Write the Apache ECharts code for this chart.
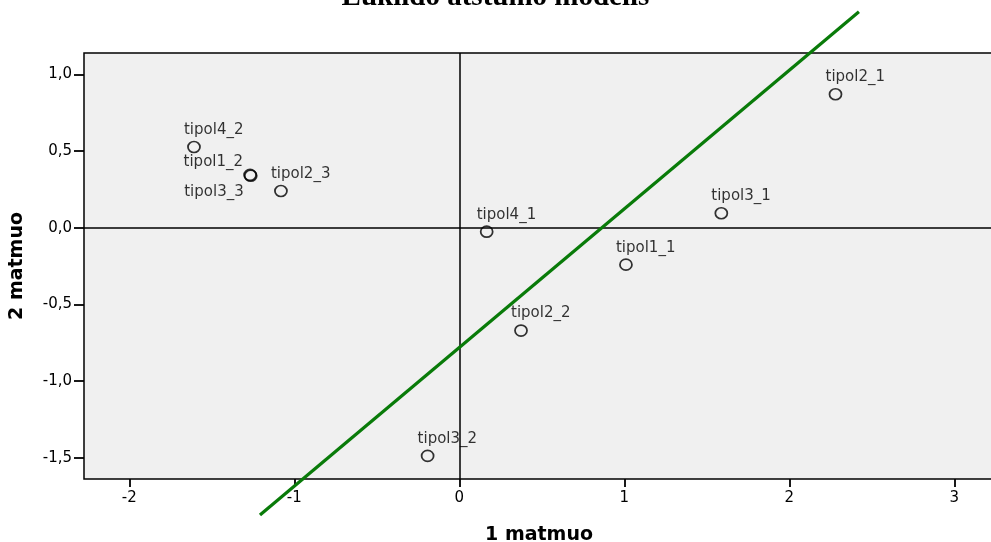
<!DOCTYPE html>
<html>
<head>
<meta charset="utf-8">
<script src="https://cdn.jsdelivr.net/npm/echarts@6/dist/echarts.min.js"></script>
<style>
  html, body { margin: 0; padding: 0; background: #fff; }
  #chart { width: 991px; height: 542px; }
</style>
</head>
<body>
<div id="chart"></div>
<script>
// stimulus coordinates (dimension 1, dimension 2)
const pointNames = ['tipol1_1', 'tipol1_2', 'tipol2_1', 'tipol2_2', 'tipol2_3', 'tipol3_1', 'tipol3_2', 'tipol3_3', 'tipol4_1', 'tipol4_2'];
const dim1 = [1.010, -1.268, 2.280, 0.374, -1.081, 1.588, -0.192, -1.264, 0.166, -1.608];
const dim2 = [-0.241, 0.344, 0.870, -0.671, 0.239, 0.094, -1.488, 0.339, -0.026, 0.526];

// fit line end points
const fitX = [-1.208, 2.422];
const fitY = [-1.873, 1.408];

const xTicks = [-2, -1, 0, 1, 2, 3];
const yTicks = [-1.5, -1.0, -0.5, 0.0, 0.5, 1.0];

const chart = echarts.init(document.getElementById('chart'));

const labelFont = { fontFamily: 'DejaVu Sans', fontSize: 15, color: '#000' };

// labels placed left of the point for the two overlapping ones
const labelPos = {
  tipol1_2: { align: 'right', offset: [-7, -13] },
  tipol3_3: { align: 'right', offset: [-7, 16] }
};

const scatterData = pointNames.map((n, i) => {
  const d = { name: n, value: [dim1[i], dim2[i]] };
  if (labelPos[n]) {
    d.label = { align: labelPos[n].align, offset: labelPos[n].offset };
  }
  return d;
});

const option = {
  animation: false,
  title: {
    text: 'Euklido atstumo modelis',
    left: 'center',
    top: -22,
    textStyle: {
      fontFamily: 'Liberation Serif',
      fontWeight: 'bold',
      fontSize: 29,
      color: '#000'
    }
  },
  grid: {
    left: 84,
    top: 53,
    right: -3,
    bottom: 63,
    outerBoundsMode: 'none',
    containLabel: false,
    show: true,
    backgroundColor: '#f0f0f0',
    borderColor: '#000',
    borderWidth: 1.5
  },
  xAxis: {
    type: 'value',
    min: -2.2745,
    max: 3.2406,
    name: '1 matmuo',
    nameLocation: 'middle',
    nameGap: 47,
    nameTextStyle: { fontFamily: 'DejaVu Sans', fontWeight: 'bold', fontSize: 19, color: '#000' },
    axisLine: { show: false, onZero: false },
    axisTick: { show: true, customValues: xTicks, length: 8, lineStyle: { color: '#000', width: 1.8 } },
    axisLabel: { customValues: xTicks, margin: 12, ...labelFont },
    splitLine: { show: false }
  },
  yAxis: {
    type: 'value',
    min: -1.6387,
    max: 1.139,
    name: '2 matmuo',
    nameLocation: 'middle',
    nameGap: 57,
    nameTextStyle: { fontFamily: 'DejaVu Sans', fontWeight: 'bold', fontSize: 19, color: '#000' },
    axisLine: { show: false, onZero: false },
    axisTick: { show: true, customValues: yTicks, length: 10, lineStyle: { color: '#000', width: 1.8 } },
    axisLabel: {
      customValues: yTicks,
      margin: 12,
      ...labelFont,
      formatter: v => Number(v).toFixed(1).replace('.', ',')
    },
    splitLine: { show: false }
  },
  series: [
    {
      type: 'line',
      z: 3,
      clip: false,
      silent: true,
      showSymbol: false,
      data: fitX.map((x, i) => [x, fitY[i]]),
      lineStyle: { color: '#097b09', width: 3.2 },
      markLine: {
        silent: true,
        symbol: 'none',
        label: { show: false },
        lineStyle: { color: '#000', width: 1.5, type: 'solid' },
        data: [{ xAxis: 0 }, { yAxis: 0 }],
        z: 2
      }
    },
    {
      type: 'scatter',
      z: 4,
      symbol: 'circle',
      symbolSize: [12, 11],
      itemStyle: { color: 'rgba(0,0,0,0)', borderColor: '#000', borderWidth: 1.7 },
      label: {
        show: true,
        position: 'inside',
        align: 'left',
        verticalAlign: 'middle',
        offset: [-10, -17],
        formatter: '{b}',
        ...labelFont
      },
      data: scatterData
    }
  ]
};

chart.setOption(option);
</script>
</body>
</html>
